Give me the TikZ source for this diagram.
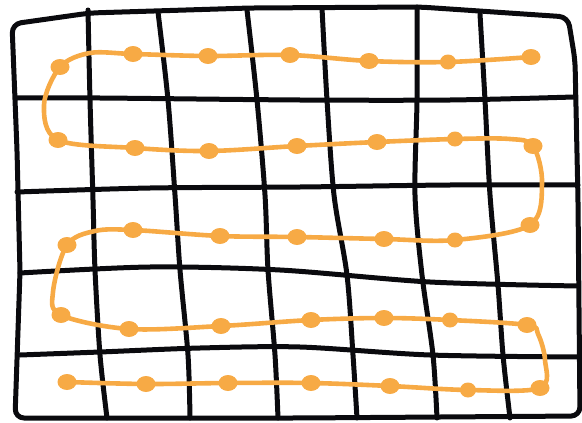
\documentclass[tikz,border=0pt]{standalone}
\usetikzlibrary{shapes.geometric}
\definecolor{orng}{RGB}{247,170,69}
\definecolor{ink}{RGB}{10,10,14}
\begin{document}
\begin{tikzpicture}[x=1pt,y=-1pt,
  gridline/.style={draw=ink,line width=5pt,line cap=round,line join=round},
  pathline/.style={draw=orng,line width=4.6pt,line cap=round,line join=round},
  dot/.style={fill=orng,ellipse,inner sep=0pt,minimum width=19pt,minimum height=16pt},
  sdot/.style={dot,minimum width=16pt,minimum height=15pt}]
\useasboundingbox (0,0) rectangle (582,423);
% outer border
\draw[gridline,rounded corners=9pt] (15,418) -- (20,272) -- (17,150) -- (12,24) -- (90,13) -- (250,8) -- (420,7) -- (568,17) -- (575,60) -- (578,200) -- (580,416) -- (300,418) -- cycle;
% vertical lines
\draw[gridline] plot[smooth] coordinates {(88,10) (90,100) (93,200) (95,270) (100,355) (107,418)};
\draw[gridline] plot[smooth] coordinates {(158,12) (168,100) (175,195) (180,270) (188,355) (190,418)};
\draw[gridline] plot[smooth] coordinates {(247,10) (257,100) (265,195) (268,270) (275,355) (278,418)};
\draw[gridline] plot[smooth] coordinates {(322,8) (327,100) (334,195) (347,275) (353,355) (357,418)};
\draw[gridline] plot[smooth] coordinates {(417,7) (417,100) (415,195) (422,275) (433,355) (437,418)};
\draw[gridline] plot[smooth] coordinates {(480,14) (485,100) (490,195) (498,285) (503,355) (510,418)};
% horizontal lines
\draw[gridline] plot[smooth] coordinates {(17,98) (100,98) (300,100) (450,100) (574,97)};
\draw[gridline] plot[smooth] coordinates {(17,192) (150,188) (300,187) (450,185) (578,185)};
\draw[gridline] plot[smooth] coordinates {(20,273) (150,267) (280,270) (430,282) (578,286)};
\draw[gridline] plot[smooth] coordinates {(20,355) (100,352) (200,348) (300,347) (430,355) (580,357)};
% dots
\node[dot] (a1) at (531,57) {};
\node[sdot] (a2) at (448,62) {};
\node[dot] (a3) at (369,61) {};
\node[dot] (a4) at (290,55) {};
\node[dot] (a5) at (208,56) {};
\node[dot] (a6) at (133,54) {};
\node[dot] (a7) at (60,67) {};
\node[dot] (b1) at (58,140) {};
\node[dot] (b2) at (135,148) {};
\node[dot] (b3) at (209,151) {};
\node[dot] (b4) at (297,146) {};
\node[dot] (b5) at (377,142) {};
\node[sdot] (b6) at (455,139) {};
\node[dot] (b7) at (533,146) {};
\node[dot] (c1) at (530,225) {};
\node[sdot] (c2) at (455,240) {};
\node[dot] (c3) at (384,239) {};
\node[dot] (c4) at (297,237) {};
\node[dot] (c5) at (220,236) {};
\node[dot] (c6) at (133,230) {};
\node[dot] (c7) at (67,245) {};
\node[dot] (e1) at (61,315) {};
\node[dot] (e2) at (129,329) {};
\node[dot] (e3) at (221,326) {};
\node[dot] (e4) at (311,320) {};
\node[dot] (e5) at (384,318) {};
\node[sdot] (e6) at (450,320) {};
\node[dot] (e7) at (527,325) {};
\node[dot] (f1) at (540,388) {};
\node[sdot] (f2) at (468,390) {};
\node[dot] (f3) at (390,386) {};
\node[dot] (f4) at (311,383) {};
\node[dot] (f5) at (228,383) {};
\node[dot] (f6) at (146,384) {};
\node[dot] (f7) at (67,382) {};
% bend helpers
\coordinate (t1) at (90,53);
\coordinate (u1) at (44,105);
\coordinate (t2) at (510,139);
\coordinate (u2) at (542,183);
\coordinate (t3) at (95,231);
\coordinate (u3) at (53,292);
\coordinate (t4) at (538,334);
\coordinate (u4) at (545,360);
% serpentine path
\draw[pathline] plot[smooth,tension=0.55] coordinates {(a1.center) (a2.center) (a3.center) (a4.center) (a5.center) (a6.center) (t1) (a7.center) (u1) (b1.center) (b2.center) (b3.center) (b4.center) (b5.center) (b6.center) (t2) (b7.center) (u2) (c1.center) (c2.center) (c3.center) (c4.center) (c5.center) (c6.center) (t3) (c7.center) (u3) (e1.center) (e2.center) (e3.center) (e4.center) (e5.center) (e6.center) (e7.center) (t4) (u4) (f1.center) (f2.center) (f3.center) (f4.center) (f5.center) (f6.center) (f7.center)};
\end{tikzpicture}
\end{document}
